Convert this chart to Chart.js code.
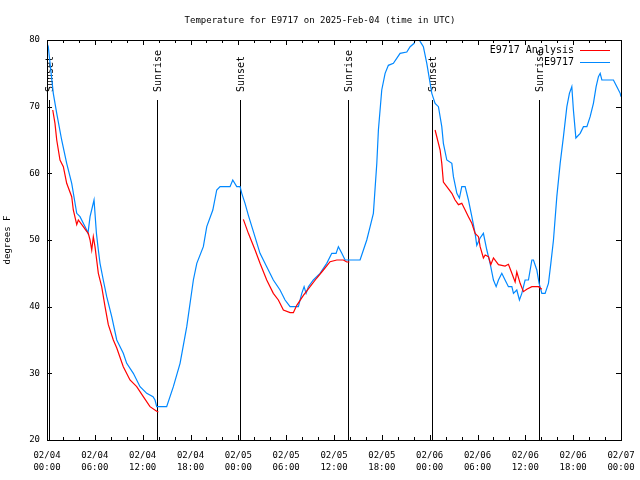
<!DOCTYPE html>
<html>
<head>
<meta charset="utf-8">
<title>Temperature for E9717</title>
<script src="https://cdn.jsdelivr.net/npm/chart.js@4.4.1/dist/chart.umd.min.js"></script>
<style>
    html, body { margin: 0; padding: 0; background: #fff; }
</style>
</head>
<body>
<canvas id="tempChart" width="640" height="480"></canvas>
<script>
// horas desde 02/04 00:00 UTC
const stationHours = [
    0, 0.16, 0.79, 1.22, 1.84, 2.47, 3.10, 3.73, 4.14, 4.98, 5.14, 5.40, 5.90, 6.20, 6.44, 6.65,
    7.06, 7.49, 8.12, 8.75, 9.57, 10.0, 10.83, 11.67, 12.51, 13.3, 13.55, 13.76, 15.01, 15.85,
    16.69, 17.53, 18.36, 18.79, 19.61, 20.04, 20.8, 21.29, 21.71, 22.96, 23.3, 23.8, 24.22,
    24.43, 24.84, 25.26, 25.88, 26.72, 27.56, 28.39, 29.23, 29.86, 30.49, 31.53, 31.96, 32.25,
    32.5, 32.79, 33.41, 34.25, 35.09, 35.72, 36.26, 36.55, 36.98, 37.39, 39.27, 39.69, 40.11,
    40.53, 40.94, 41.37, 41.57, 41.99, 42.41, 42.82, 43.45, 44.29, 45.13, 45.55, 46.05, 46.17,
    46.71, 46.8, 47.21, 47.64, 48.27, 48.68, 49.1, 49.52, 49.72, 50.15, 50.78, 50.98, 51.41,
    51.73, 52.03, 52.45, 52.86, 53.29, 53.7, 53.91, 54.33, 54.74, 55.17, 55.58, 56.0, 56.34,
    56.63, 57.05, 57.46, 57.88, 58.31, 58.51, 58.93, 59.26, 59.56, 59.97, 60.39, 60.82, 61.02,
    61.44, 61.73, 62.07, 62.48, 62.9, 63.2, 63.53, 63.95, 64.37, 64.78, 65.21, 65.53, 65.83,
    66.03, 66.34, 66.88, 67.29, 67.72, 68.13, 68.54, 68.88, 69.17, 69.39, 69.6, 71.05, 71.48,
    71.9, 72
];
const stationTemps = [
    79.5, 79, 72, 69, 65, 61.5, 58.5, 54, 53.5, 51.5, 51, 53.5, 56, 51, 48.5, 46.5,
    44, 41.5, 38.5, 35, 33, 31.5, 30, 28, 27, 26.5, 26, 25, 25, 28,
    31.5, 37, 44, 46.5, 49, 52, 54.5, 57.5, 58, 58, 59, 58, 58,
    57, 55.5, 53.7, 51.3, 48, 46, 44, 42.5, 41, 40, 40, 42, 43,
    42, 43, 44, 45, 46.5, 48, 48, 49, 48, 47, 47, 48.5, 50,
    52, 54, 61.5, 66.5, 72.5, 75, 76.2, 76.5, 78, 78.2, 79, 79.5, 80,
    80, 79.8, 79, 76.5, 72, 70.5, 70, 67, 64.5, 62, 61.5, 59.5, 57,
    56.3, 58, 58, 56, 53.5, 51, 49.2, 50.3, 51, 48.5, 46.5, 44, 43,
    44, 45, 44, 43, 43, 42, 42.5, 41, 42, 44, 44, 47, 47,
    45.5, 43.5, 42, 42, 43.5, 46.5, 50, 56.5, 61.5, 65.5, 70, 72, 73,
    69.5, 65.3, 66, 67, 67, 68.5, 70.5, 73, 74.5, 75, 74, 74, 73,
    72, 71.5
];

// análise: null separa os trechos sem dados
const analysisHours = [
    0.72, 1.0, 1.22, 1.63, 2.05, 2.47, 3.10, 3.30, 3.73, 3.93, 4.55, 4.98, 5.18, 5.40, 5.61,
    5.81, 6.02, 6.44, 6.86, 7.28, 7.69, 8.32, 8.75, 9.57, 10.41, 11.25, 12.08, 12.92, 13.76, 13.97,
    19,
    24.63, 25.26, 26.1, 26.72, 27.56, 28.39, 29.02, 29.65, 30.49, 30.9, 31.33, 32.16, 33.0,
    33.84, 34.67, 35.51, 36.35, 37.18, 37.6, 37.93,
    43,
    48.68, 49.31, 49.52, 49.72, 50.15, 50.78, 51.19, 51.61, 52.03, 52.45, 52.86, 53.29, 53.7,
    54.12, 54.33, 54.74, 54.96, 55.38, 55.67, 56.0, 56.63, 57.46, 57.88, 58.31, 58.72, 58.93,
    59.35, 59.76, 60.18, 60.82, 61.65, 62.07
];
const analysisTemps = [
    69.5, 67.5, 65, 62, 61, 58.5, 56.5, 54.5, 52.3, 53, 52, 51.3, 51, 50, 48.5,
    50.5, 49, 45, 43, 40, 37.3, 35, 33.8, 31, 29, 28, 26.5, 25, 24.3, 24.2,
    null,
    53.1, 51, 48.5, 46.5, 44, 42, 41, 39.5, 39.1, 39.1, 40.2, 41.7, 43,
    44.3, 45.5, 46.75, 47, 47, 46.7, 46.7,
    null,
    66.5, 63.5, 61.5, 58.7, 58, 57, 56, 55.3, 55.5, 54.5, 53.5, 52.5, 51,
    50.5, 49, 47.3, 47.75, 47.5, 46.3, 47.3, 46.3, 46.1, 46.35, 45, 43.7, 45.2,
    43.5, 42.25, 42.6, 43, 43, 42.6
];

const sunsetHours = [0.25, 24.25, 48.3];
const sunriseHours = [13.75, 37.8, 61.77];

const xTickHours = [0, 6, 12, 18, 24, 30, 36, 42, 48, 54, 60, 66, 72];
const xTickDays = ['02/04', '02/04', '02/04', '02/04', '02/05', '02/05', '02/05', '02/05',
    '02/06', '02/06', '02/06', '02/06', '02/07'];
const xTickTimes = ['00:00', '06:00', '12:00', '18:00', '00:00', '06:00', '12:00', '18:00',
    '00:00', '06:00', '12:00', '18:00', '00:00'];
const yTicks = [20, 30, 40, 50, 60, 70, 80];

const MONO = "'DejaVu Sans Mono', 'Liberation Mono', monospace";

function toPoints(xs, ys) {
    return xs.map((x, i) => ({ x: x, y: ys[i] }));
}

// marcas internas e moldura no estilo gnuplot
const frameTicks = {
    id: 'frameTicks',
    afterDatasetsDraw(chart) {
        const { ctx, chartArea: a, scales } = chart;
        const xs = scales.x, ys = scales.y;
        ctx.save();
        ctx.strokeStyle = '#000';
        ctx.lineWidth = 1;
        ctx.beginPath();
        for (let h = xs.min; h <= xs.max; h += 2) {
            const px = Math.round(xs.getPixelForValue(h)) + 0.5;
            const len = xTickHours.includes(h) ? 5 : 3;
            ctx.moveTo(px, a.bottom); ctx.lineTo(px, a.bottom - len);
            ctx.moveTo(px, a.top); ctx.lineTo(px, a.top + len);
        }
        yTicks.forEach(v => {
            const py = Math.round(ys.getPixelForValue(v)) + 0.5;
            ctx.moveTo(a.left, py); ctx.lineTo(a.left + 5, py);
            ctx.moveTo(a.right, py); ctx.lineTo(a.right - 5, py);
        });
        ctx.stroke();
        ctx.strokeRect(Math.round(a.left) + 0.5, Math.round(a.top) + 0.5,
            Math.round(a.right - a.left), Math.round(a.bottom - a.top));
        ctx.restore();
    }
};

// linhas de nascer/pôr do sol
const sunLines = {
    id: 'sunLines',
    beforeDatasetsDraw(chart) {
        const { ctx, chartArea: a, scales } = chart;
        const marks = sunsetHours.map(h => [h, 'Sunset'])
            .concat(sunriseHours.map(h => [h, 'Sunrise']));
        ctx.save();
        ctx.strokeStyle = '#000';
        ctx.fillStyle = '#000';
        ctx.lineWidth = 1;
        ctx.font = '10px ' + MONO;
        marks.forEach(([h, label]) => {
            const px = Math.round(scales.x.getPixelForValue(h)) + 0.5;
            ctx.beginPath();
            ctx.moveTo(px, a.top + 60);
            ctx.lineTo(px, a.bottom);
            ctx.stroke();
            ctx.save();
            ctx.translate(px + 1, a.top + 52);
            ctx.rotate(-Math.PI / 2);
            ctx.textAlign = 'left';
            ctx.textBaseline = 'middle';
            ctx.fillText(label, 0, 0);
            ctx.restore();
        });
        ctx.restore();
    }
};

// legenda: texto alinhado à direita e amostra da linha
const keyBox = {
    id: 'keyBox',
    afterDraw(chart) {
        const { ctx, chartArea: a } = chart;
        ctx.save();
        ctx.font = '10px ' + MONO;
        ctx.textAlign = 'right';
        ctx.textBaseline = 'middle';
        ctx.fillStyle = '#000';
        chart.data.datasets.forEach((ds, i) => {
            const y = a.top + 10 + i * 12;
            ctx.fillText(ds.label, a.right - 47, y);
            ctx.strokeStyle = ds.borderColor;
            ctx.lineWidth = 1;
            ctx.beginPath();
            ctx.moveTo(a.right - 41, y + 0.5);
            ctx.lineTo(a.right - 11, y + 0.5);
            ctx.stroke();
        });
        ctx.restore();
    }
};

document.addEventListener('DOMContentLoaded', () => {
    Chart.defaults.font.family = MONO;
    Chart.defaults.font.size = 9;
    Chart.defaults.color = '#000';

    new Chart(document.getElementById('tempChart'), {
        type: 'line',
        data: {
            datasets: [{
                label: 'E9717 Analysis',
                data: toPoints(analysisHours, analysisTemps),
                borderColor: '#ff0000',
                borderWidth: 1.2,
                pointRadius: 0,
                spanGaps: false,
                tension: 0
            }, {
                label: 'E9717',
                data: toPoints(stationHours, stationTemps),
                borderColor: '#0088ff',
                borderWidth: 1.2,
                pointRadius: 0,
                tension: 0
            }]
        },
        options: {
            responsive: false,
            animation: false,
            devicePixelRatio: 1,
            layout: { padding: 0 },
            plugins: {
                legend: { display: false },
                tooltip: { enabled: false },
                title: {
                    display: true,
                    text: 'Temperature for E9717 on 2025-Feb-04 (time in UTC)',
                    font: { family: MONO, size: 9, weight: 'normal', lineHeight: 1.2 },
                    color: '#000',
                    padding: { top: 15, bottom: 14.2 }
                }
            },
            scales: {
                x: {
                    type: 'linear',
                    min: xTickHours[0],
                    max: xTickHours[xTickHours.length - 1],
                    grid: { display: false, drawTicks: false },
                    border: { display: false },
                    afterBuildTicks(scale) {
                        scale.ticks = xTickHours.map(v => ({ value: v }));
                    },
                    afterFit(scale) {
                        scale.height = 40;
                        scale.paddingLeft = 0;
                        scale.paddingRight = 0;
                    },
                    ticks: {
                        autoSkip: false,
                        maxRotation: 0,
                        padding: 10,
                        font: { size: 9, lineHeight: 1.3 },
                        callback: (value, index) => [xTickDays[index], xTickTimes[index]]
                    }
                },
                y: {
                    min: yTicks[0],
                    max: yTicks[yTicks.length - 1],
                    grid: { display: false, drawTicks: false },
                    border: { display: false },
                    afterBuildTicks(scale) {
                        scale.ticks = yTicks.map(v => ({ value: v }));
                    },
                    afterFit(scale) {
                        scale.width = 47;
                        scale.paddingTop = 0;
                        scale.paddingBottom = 0;
                    },
                    ticks: { padding: 7, font: { size: 9 } },
                    title: {
                        display: true,
                        text: 'degrees F',
                        font: { size: 9 },
                        padding: { top: 2, bottom: 0 }
                    }
                },
                // margem direita vazia, mantém o título centrado na figura
                yRight: {
                    position: 'right',
                    display: true,
                    grid: { display: false, drawTicks: false },
                    border: { display: false },
                    ticks: { display: false },
                    afterFit(scale) {
                        scale.width = 19;
                        scale.paddingTop = 0;
                        scale.paddingBottom = 0;
                    }
                }
            }
        },
        plugins: [sunLines, frameTicks, keyBox]
    });
});
</script>
</body>
</html>
